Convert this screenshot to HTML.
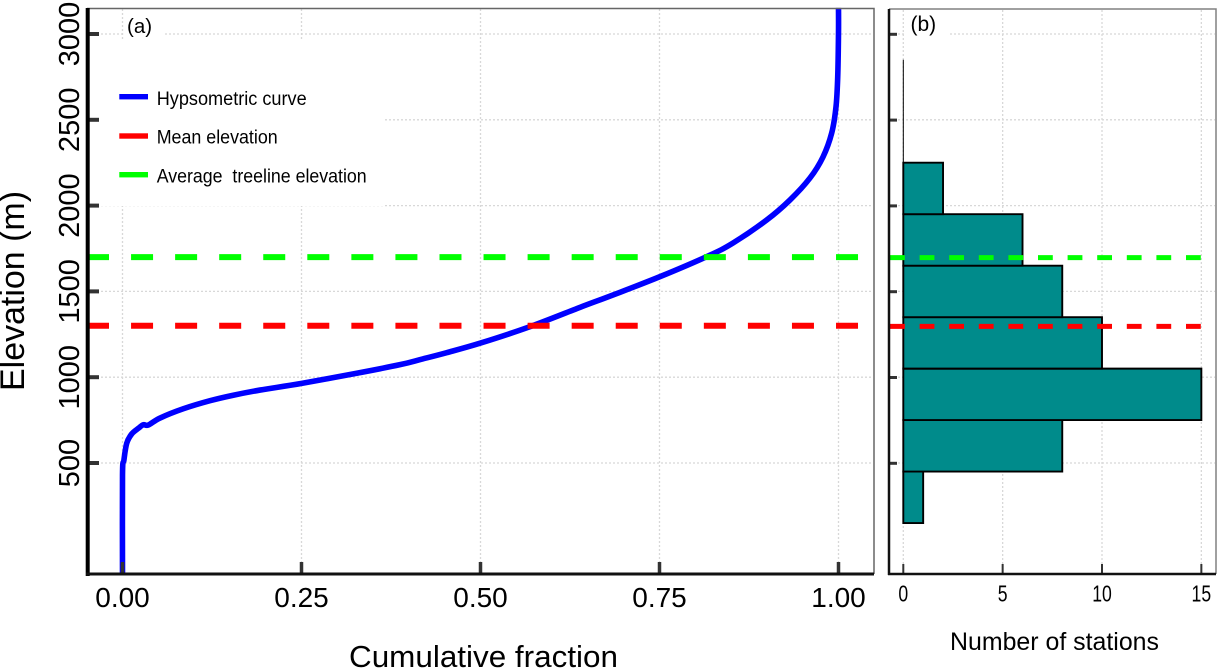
<!DOCTYPE html>
<html lang="en">
<head>
<meta charset="utf-8">
<title>Hypsometric curve and station elevation histogram</title>
<style>
html,body{margin:0;padding:0;background:#fff;width:1221px;height:670px;overflow:hidden}
svg{display:block}
text{font-family:"Liberation Sans",Arial,sans-serif;fill:#000}
</style>
</head>
<body>
<svg id="chart" xmlns="http://www.w3.org/2000/svg" width="1221" height="670" viewBox="0 0 1221 670"></svg>
<script>
// Panel (a) data: hypsometric curve
const curveFraction = [0,0,0.002,0.0059,0.0128,0.0221,0.029,0.036,0.0524,0.0849,0.1222,0.1547,0.192,0.2503,0.3271,0.3876,0.4179,0.4528,0.4993,0.5668,0.639,0.685,0.7507,0.8177,0.8527,0.8997,0.9323,0.9602,0.9783,0.9905,0.9965,0.9989,1,1];
const curveElevation = [-147,430,517,615,669,702,723,721,762,816,863,895,925,964,1023,1073,1105,1143,1198,1291,1407,1479,1586,1706,1782,1916,2033,2161,2283,2423,2575,2749,3006,3152];
const meanElevation = 1300;
const treelineElevation = 1700;
// Panel (b) data: histogram of stations by elevation
const binEdges = [150,450,750,1050,1350,1650,1950,2250,2550,2850];
const stationCounts = [1,8,15,10,8,6,2,0,0];
// Tick labels
const elevationTicks = [500,1000,1500,2000,2500,3000];
const fractionTicks = [0,0.25,0.5,0.75,1];
const fractionTickLabels = ['0.00','0.25','0.50','0.75','1.00'];
const countTicks = [0,5,10,15];

// Axis functions
function yScale(e){ return 463 - (e - 500) * 0.1716; }
function xFraction(f){ return 122.5 + 716 * f; }
function xCount(c){ return 903.3 + 19.87 * c; }

const svg = document.getElementById('chart');
const NS = 'http://www.w3.org/2000/svg';
function make(tag, attrs, txt){
  const n = document.createElementNS(NS, tag);
  for (const k in attrs) n.setAttribute(k, attrs[k]);
  if (txt !== undefined) n.textContent = txt;
  svg.appendChild(n);
  return n;
}
// Smooth path through the curve readings (Catmull-Rom to Bezier)
function smoothPath(px, py){
  let d = 'M' + px[0] + ' ' + py[0];
  for (let i = 0; i < px.length - 1; i++){
    const a = Math.max(i - 1, 0), b = Math.min(i + 2, px.length - 1);
    const c1x = px[i] + (px[i+1] - px[a]) / 6, c1y = py[i] + (py[i+1] - py[a]) / 6;
    const c2x = px[i+1] - (px[b] - px[i]) / 6, c2y = py[i+1] - (py[b] - py[i]) / 6;
    d += 'C' + c1x + ' ' + c1y + ' ' + c2x + ' ' + c2y + ' ' + px[i+1] + ' ' + py[i+1];
  }
  return d;
}
let el;

// Background
el = make('rect',{x:0,y:0,width:1221,height:670,fill:'#fff'});



// Gridlines panel (a)
fractionTicks.forEach(function(f){
  el = make('line',{x1:xFraction(f),x2:xFraction(f),y1:9,y2:573,stroke:'#d8d8d8','stroke-width':1.3,'stroke-dasharray':'2 2'});
  
  
});
elevationTicks.forEach(function(e){
  el = make('line',{x1:89,x2:873,y1:yScale(e),y2:yScale(e),stroke:'#d8d8d8','stroke-width':1.3,'stroke-dasharray':'2 2'});
  
  
});
// Gridlines panel (b)
countTicks.forEach(function(c){
  el = make('line',{x1:xCount(c),x2:xCount(c),y1:10,y2:573,stroke:'#d8d8d8','stroke-width':1.3,'stroke-dasharray':'2 2'});
  
  
});
elevationTicks.forEach(function(e){
  el = make('line',{x1:890,x2:1215,y1:yScale(e),y2:yScale(e),stroke:'#d8d8d8','stroke-width':1.3,'stroke-dasharray':'2 2'});
  
  
});

// White boxes behind legend and panel labels
el = make('rect',{x:100,y:39,width:285,height:167,fill:'#fff'});


el = make('rect',{x:124,y:10,width:39,height:30,fill:'#fff'});


el = make('rect',{x:905,y:10,width:43,height:30,fill:'#fff'});



// Histogram bars
stationCounts.forEach(function(c,i){
  const x0 = xCount(0), x1 = xCount(c), y0 = yScale(binEdges[i]), y1 = yScale(binEdges[i+1]);
  el = make('path',{d:'M'+x0+' '+y0+'L'+x1+' '+y0+'L'+x1+' '+y1+'L'+x0+' '+y1+'Z',fill:'#008b8b',stroke:'#000','stroke-width':c===0?1:1.9});
  
  
});

// Hypsometric curve
el = make('path',{d:smoothPath(curveFraction.map(xFraction),curveElevation.map(yScale)),fill:'none',stroke:'#0000ff','stroke-width':5.6,'stroke-linejoin':'round'});



// Reference lines
el = make('line',{x1:87,x2:873,y1:yScale(treelineElevation),y2:yScale(treelineElevation),stroke:'#00ff00','stroke-width':6,'stroke-dasharray':'22 22.06'});


el = make('line',{x1:87,x2:873,y1:yScale(meanElevation),y2:yScale(meanElevation),stroke:'#ff0000','stroke-width':6,'stroke-dasharray':'22 22.06'});


el = make('line',{x1:890,x2:1216,y1:yScale(treelineElevation)+0.6,y2:yScale(treelineElevation)+0.6,stroke:'#00ff00','stroke-width':5,'stroke-dasharray':'14.8 14.8'});


el = make('line',{x1:890,x2:1216,y1:yScale(meanElevation)+0.6,y2:yScale(meanElevation)+0.6,stroke:'#ff0000','stroke-width':5,'stroke-dasharray':'14.8 14.8'});



// Panel frames
el = make('path',{d:'M87 8.5H874V574',fill:'none',stroke:'#666','stroke-width':1.5});


el = make('path',{d:'M889 9H1216V574',fill:'none',stroke:'#808080','stroke-width':1.5});



// Ticks panel (a)
elevationTicks.forEach(function(e){
  el = make('line',{x1:88,x2:99,y1:yScale(e),y2:yScale(e),stroke:'#333','stroke-width':4});
  
  
  el = make('text',{x:79,y:yScale(e),'font-size':29,'text-anchor':'middle',transform:'rotate(-90 79 '+yScale(e)+')'},String(e));
  
  
});
fractionTicks.forEach(function(f,i){
  el = make('line',{x1:xFraction(f),x2:xFraction(f),y1:562,y2:574,stroke:'#333','stroke-width':3.5});
  
  
  el = make('text',{x:xFraction(f),y:607,'font-size':28,'text-anchor':'middle'},fractionTickLabels[i]);
  
  
});
// Ticks panel (b)
elevationTicks.forEach(function(e){
  el = make('line',{x1:890,x2:897,y1:yScale(e)+0.3,y2:yScale(e)+0.3,stroke:'#333','stroke-width':3});
  
  
});
countTicks.forEach(function(c){
  el = make('line',{x1:xCount(c),x2:xCount(c),y1:564,y2:574,stroke:'#333','stroke-width':2});
  
  
  const s = String(c);
  el = make('text',{x:xCount(c),y:601.7,'font-size':23,'text-anchor':'middle',textLength:s.length*9.8,lengthAdjust:'spacingAndGlyphs'},s);
  
  
});

// Axis lines
el = make('line',{x1:87.7,x2:87.7,y1:8,y2:576,stroke:'#000','stroke-width':4});


el = make('line',{x1:86,x2:874,y1:574,y2:574,stroke:'#111','stroke-width':3});


el = make('line',{x1:889,x2:889,y1:9,y2:575,stroke:'#111','stroke-width':2.5});


el = make('line',{x1:888,x2:1216,y1:574,y2:574,stroke:'#111','stroke-width':2.5});


</script>
<script>
// Static labels and legend
(function(){
  const s = document.getElementById('chart');
  const items = [
    ['y-axis-title','Elevation (m)',{x:24,y:291,'font-size':34,'text-anchor':'middle',transform:'rotate(-90 24 291)',textLength:200,lengthAdjust:'spacingAndGlyphs'}],
    ['x-axis-title-cumulative-fraction','Cumulative fraction',{x:349,y:667,'font-size':31,textLength:269,lengthAdjust:'spacingAndGlyphs'}],
    ['x-axis-title-number-of-stations','Number of stations',{x:950,y:650,'font-size':25,textLength:209,lengthAdjust:'spacingAndGlyphs'}],
    ['panel-a-label','(a)',{x:127,y:33,'font-size':20.5}],
    ['panel-b-label','(b)',{x:910.5,y:31,'font-size':21}],
    ['legend-label-hypsometric-curve','Hypsometric curve',{x:156.7,y:105,'font-size':19,textLength:150,lengthAdjust:'spacingAndGlyphs'}],
    ['legend-label-mean-elevation','Mean elevation',{x:156.7,y:143.5,'font-size':19,textLength:121,lengthAdjust:'spacingAndGlyphs'}],
    ['legend-label-treeline-elevation','Average  treeline elevation',{x:156.7,y:182.5,'font-size':19,textLength:210,lengthAdjust:'spacingAndGlyphs',style:'white-space:pre'}]
  ];
  items.forEach(function(it){
    const t = document.createElementNS('http://www.w3.org/2000/svg','text');
    for (const k in it[2]) t.setAttribute(k, it[2][k]);
    t.textContent = it[1];
    
    
    s.appendChild(t);
  });
  const swatches = [['legend-swatch-hypsometric','#0000ff',94],['legend-swatch-mean','#ff0000',133.3],['legend-swatch-treeline','#00ff00',172]];
  swatches.forEach(function(w){
    const r = document.createElementNS('http://www.w3.org/2000/svg','rect');
    r.setAttribute('x', 119.3);
    r.setAttribute('y', w[2]);
    r.setAttribute('width', 28.7);
    r.setAttribute('height', 5.4);
    r.setAttribute('fill', w[1]);
    
    
    s.appendChild(r);
  });
})();
</script>
</body>
</html>
